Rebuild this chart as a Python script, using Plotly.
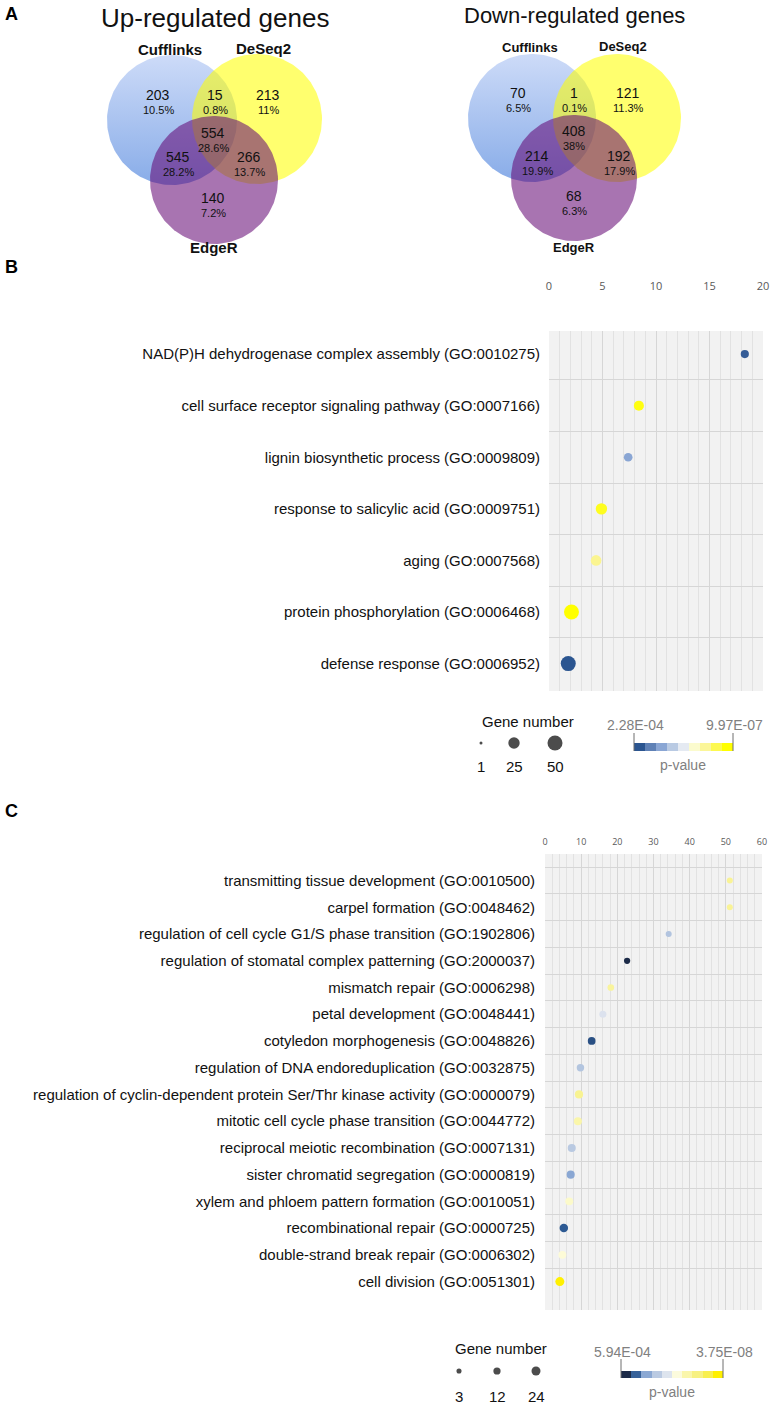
import numpy as np
import plotly.graph_objects as go

# ================= DATA =================
# Panel A : Venn diagrams (regions: Cuff only, Cuff&DeSeq2, DeSeq2 only, all three,
#           Cuff&EdgeR, DeSeq2&EdgeR, EdgeR only)
venn_sets = ["Cufflinks", "DeSeq2", "EdgeR"]
up_title = "Up-regulated genes"
up_counts = [203, 15, 213, 554, 545, 266, 140]
up_pcts = ["10.5%", "0.8%", "11%", "28.6%", "28.2%", "13.7%", "7.2%"]
down_title = "Down-regulated genes"
down_counts = [70, 1, 121, 408, 214, 192, 68]
down_pcts = ["6.5%", "0.1%", "11.3%", "38%", "19.9%", "17.9%", "6.3%"]

# Panel B : GO terms (up-regulated)
b_terms = [
    "NAD(P)H dehydrogenase complex assembly (GO:0010275)",
    "cell surface receptor signaling pathway (GO:0007166)",
    "lignin biosynthetic process (GO:0009809)",
    "response to salicylic acid (GO:0009751)",
    "aging (GO:0007568)",
    "protein phosphorylation (GO:0006468)",
    "defense response (GO:0006952)",
]
b_enrichment = [18.3, 8.4, 7.4, 4.9, 4.4, 2.1, 1.8]
b_genes = [10, 18, 12, 25, 21, 50, 50]
b_pvalues = [2.0e-4, 1.15e-6, 5.9e-5, 1.3e-6, 3.5e-6, 9.97e-7, 2.28e-4]
b_legend_genes = [1, 25, 50]
b_p_range = [2.28e-4, 9.97e-7]
b_xticks = [0, 5, 10, 15, 20]

# Panel C : GO terms (down-regulated)
c_terms = [
    "transmitting tissue development (GO:0010500)",
    "carpel formation (GO:0048462)",
    "regulation of cell cycle G1/S phase transition (GO:1902806)",
    "regulation of stomatal complex patterning (GO:2000037)",
    "mismatch repair (GO:0006298)",
    "petal development (GO:0048441)",
    "cotyledon morphogenesis (GO:0048826)",
    "regulation of DNA endoreduplication (GO:0032875)",
    "regulation of cyclin-dependent protein Ser/Thr kinase activity (GO:0000079)",
    "mitotic cell cycle phase transition (GO:0044772)",
    "reciprocal meiotic recombination (GO:0007131)",
    "sister chromatid segregation (GO:0000819)",
    "xylem and phloem pattern formation (GO:0010051)",
    "recombinational repair (GO:0000725)",
    "double-strand break repair (GO:0006302)",
    "cell division (GO:0051301)",
]
c_enrichment = [51.1, 51.1, 34.2, 22.7, 18.2, 16.0, 12.9, 9.8, 9.4, 9.1, 7.4, 7.1, 6.7, 5.2, 4.8, 4.1]
c_genes = [6, 6, 6, 7, 9, 11, 15, 13, 18, 17, 17, 17, 16, 20, 16, 24]
c_pvalues = [5.5e-7, 5.5e-7, 2.95e-5, 5.94e-4, 6.8e-7, 8.5e-6, 2.75e-4, 2.9e-5,
             5.1e-7, 9.1e-7, 2.45e-5, 7.1e-5, 1.8e-6, 2.26e-4, 2.4e-6, 3.75e-8]
c_legend_genes = [3, 12, 24]
c_p_range = [5.94e-4, 3.75e-8]
c_xticks = [0, 10, 20, 30, 40, 50, 60]

# ================= STYLE / LAYOUT =================
W, H = 771, 1404
FONT = "Liberation Sans, Arial, sans-serif"
TICKFONT = "Open Sans, Liberation Sans, sans-serif"
GRAY_TXT = "#808080"

b_colorscale = [[0, "#2b5590"], [0.12, "#5d7fb5"], [0.25, "#8aa6d4"], [0.4, "#c3d1e6"],
                [0.52, "#eceff4"], [0.62, "#fbfbd0"], [0.78, "#fbf58c"], [1, "#ffff00"]]
c_colorscale = [[0, "#1c2b48"], [0.1, "#2d5a93"], [0.22, "#8aa7d3"], [0.32, "#b6c7e0"],
                [0.45, "#dfe5ef"], [0.56, "#fdfcdc"], [0.7, "#f9f49c"], [0.85, "#f6ef6a"],
                [1, "#fff000"]]


def b_size(g):
    return 3 + 12 * np.sqrt((np.asarray(g, float) - 1) / 49.0)


def c_size(g):
    return 3 + 6 * np.sqrt(np.asarray(g, float) / 24.0)


def lv(p):
    return -np.log10(np.asarray(p, float))


fig = go.Figure()

# pixel overlay axis (x4/y4) for Venn diagrams and legends
PX, PY = "x4", "y4"

# ---------- Panel A: Venn ----------
venn_layout = [
    dict(title=up_title, counts=up_counts, pcts=up_pcts, tsize=26, tpos=(215, 18),
         circles=[(172, 120, 65), (257, 119, 65), (214, 180, 64)],
         setpos=[(170, 49), (263, 48), (214, 247)], setsize=15,
         regions=[(158, 95), (215, 95), (268, 95), (213, 133), (178, 157), (249, 157), (213, 198)]),
    dict(title=down_title, counts=down_counts, pcts=down_pcts, tsize=22, tpos=(574, 15),
         circles=[(532, 118, 64), (617, 118, 64), (574, 178, 63)],
         setpos=[(530, 47), (623, 46), (574, 247)], setsize=13,
         regions=[(518, 93), (574, 93), (628, 93), (574, 131), (537, 156), (619, 156), (574, 196)]),
]
theta = np.linspace(0, 2 * np.pi, 200)
annotations = []
for v in venn_layout:
    (bx, by, br), (yx, yy, yr), (qx, qy, qr) = v["circles"]
    fig.add_trace(go.Scatter(
        x=bx + br * np.cos(theta), y=by + br * np.sin(theta), xaxis=PX, yaxis=PY,
        mode="lines", line=dict(width=0), fill="toself",
        fillgradient=dict(type="vertical", start=by - br, stop=by + br,
                          colorscale=[[0, "#cddbf8"], [1, "#88ace8"]]),
        hoverinfo="skip", showlegend=False))
    fig.add_trace(go.Scatter(
        x=yx + yr * np.cos(theta), y=yy + yr * np.sin(theta), xaxis=PX, yaxis=PY,
        mode="lines", line=dict(width=0), fill="toself", fillcolor="#ffff00",
        opacity=0.57, hoverinfo="skip", showlegend=False))
    fig.add_trace(go.Scatter(
        x=qx + qr * np.cos(theta), y=qy + qr * np.sin(theta), xaxis=PX, yaxis=PY,
        mode="lines", line=dict(width=0), fill="toself", fillcolor="rgb(100,8,116)",
        opacity=0.56, hoverinfo="skip", showlegend=False))
    annotations.append(dict(x=v["tpos"][0], y=v["tpos"][1], xref=PX, yref=PY, text=v["title"],
                            showarrow=False, font=dict(family=FONT, size=v["tsize"], color="#111")))
    for name, (sx, sy) in zip(venn_sets, v["setpos"]):
        annotations.append(dict(x=sx, y=sy, xref=PX, yref=PY, text="<b>%s</b>" % name,
                                showarrow=False, font=dict(family=FONT, size=v["setsize"], color="#111")))
    for cnt, pct, (rx, ry) in zip(v["counts"], v["pcts"], v["regions"]):
        annotations.append(dict(x=rx, y=ry, xref=PX, yref=PY, text=str(cnt), showarrow=False,
                                font=dict(family=FONT, size=14, color="#111")))
        annotations.append(dict(x=rx, y=ry + 15, xref=PX, yref=PY, text=pct, showarrow=False,
                                font=dict(family=FONT, size=11, color="#111")))

# ---------- Panel B ----------
b_lv = lv(b_pvalues)
b_min, b_max = lv(b_p_range[0]), lv(b_p_range[1])
fig.add_trace(go.Scatter(
    x=b_enrichment, y=b_terms, xaxis="x2", yaxis="y2", mode="markers",
    marker=dict(size=b_size(b_genes), color=b_lv, colorscale=b_colorscale,
                cmin=b_min, cmax=b_max, line=dict(width=0), opacity=1),
    showlegend=False, hoverinfo="x+y"))

# ---------- Panel C ----------
c_lv = lv(c_pvalues)
c_min, c_max = lv(c_p_range[0]), lv(c_p_range[1])
fig.add_trace(go.Scatter(
    x=c_enrichment, y=c_terms, xaxis="x3", yaxis="y3", mode="markers",
    marker=dict(size=c_size(c_genes), color=c_lv, colorscale=c_colorscale,
                cmin=c_min, cmax=c_max, line=dict(width=0), opacity=1),
    showlegend=False, hoverinfo="x+y"))

# ---------- Legends ----------
shapes = []


def add_legend(genes, size_fn, dot_x, dot_y, title_pos, lab_y, p_range, vmin, vmax, cscale,
               bar_x0, bar_x1, bar_y0, bar_y1, tick_top, plabel_y, pval_pos, nseg):
    fig.add_trace(go.Scatter(
        x=dot_x, y=[dot_y] * len(dot_x), xaxis=PX, yaxis=PY, mode="markers",
        marker=dict(size=size_fn(genes), color="black", line=dict(width=0)),
        hoverinfo="skip", showlegend=False))
    annotations.append(dict(x=title_pos[0], y=title_pos[1], xref=PX, yref=PY, text="Gene number",
                            showarrow=False, font=dict(family=FONT, size=15, color="#111")))
    for g, gx in zip(genes, dot_x):
        annotations.append(dict(x=gx, y=lab_y, xref=PX, yref=PY, text=str(g), showarrow=False,
                                font=dict(family=FONT, size=15, color="#111")))
    edges = np.linspace(bar_x0, bar_x1, nseg + 1)
    fig.add_trace(go.Heatmap(
        x=edges, y=[bar_y0, bar_y1], z=[np.linspace(vmin, vmax, nseg)], xaxis=PX, yaxis=PY,
        colorscale=cscale, zmin=vmin, zmax=vmax, showscale=False, hoverinfo="skip"))
    for px_, p in zip([bar_x0, bar_x1], p_range):
        shapes.append(dict(type="line", xref=PX, yref=PY, x0=px_, x1=px_, y0=tick_top, y1=bar_y1,
                           line=dict(color="#6f6f6f", width=1)))
        annotations.append(dict(x=px_ + 1, y=plabel_y, xref=PX, yref=PY, text="%.2E" % p,
                                showarrow=False, font=dict(family=FONT, size=14, color=GRAY_TXT)))
    annotations.append(dict(x=pval_pos[0], y=pval_pos[1], xref=PX, yref=PY, text="p-value",
                            showarrow=False, font=dict(family=FONT, size=14, color=GRAY_TXT)))


add_legend(b_legend_genes, b_size, [481, 514, 555], 743, (528, 721), 766, b_p_range, b_min, b_max,
           b_colorscale, 634, 733, 743, 751, 733, 725, (683, 765), 9)
add_legend(c_legend_genes, c_size, [459, 497, 536], 1371, (501, 1348), 1396, c_p_range, c_min, c_max,
           c_colorscale, 621, 723, 1371, 1378, 1359, 1352, (672, 1392), 10)

# panel letters
for letter, (lx, ly) in zip(["A", "B", "C"], [(11, 14), (11, 267), (11, 811)]):
    annotations.append(dict(x=lx, y=ly, xref=PX, yref=PY, text="<b>%s</b>" % letter, showarrow=False,
                            font=dict(family=FONT, size=18, color="#000")))

# gray panel backgrounds
for xa in ["x2", "x3"]:
    shapes.append(dict(type="rect", xref="%s domain" % xa, yref="%s domain" % xa.replace("x", "y"),
                       x0=0, x1=1, y0=0, y1=1, fillcolor="#f2f2f2", line=dict(width=0), layer="below"))


def pyd(p):
    return 1 - p / H


grid_major = "#d6d6d6"
grid_minor = "#e2e2e2"
fig.update_layout(
    width=W, height=H, margin=dict(l=0, r=0, t=0, b=0),
    paper_bgcolor="white", plot_bgcolor="rgba(0,0,0,0)",
    showlegend=False,
    xaxis4=dict(domain=[0, 1], range=[0, W], visible=False, fixedrange=True),
    yaxis4=dict(domain=[0, 1], range=[H, 0], visible=False, fixedrange=True, anchor="x4"),
    xaxis2=dict(domain=[549 / W, 763 / W], range=[0, 20], side="top", anchor="y2",
                tickvals=b_xticks, showgrid=True, gridcolor=grid_major, gridwidth=1,
                minor=dict(dtick=1, showgrid=True, gridcolor=grid_minor),
                zeroline=False, showline=False, ticks="",
                tickfont=dict(family=TICKFONT, size=11, color="#595959"),
                ticklabelstandoff=38, automargin=False, fixedrange=True),
    yaxis2=dict(domain=[pyd(691), pyd(331)], anchor="x2", type="category",
                categoryorder="array", categoryarray=b_terms, autorange="reversed",
                tickson="boundaries", showgrid=True, gridcolor=grid_major, ticks="",
                zeroline=False, showline=False,
                tickfont=dict(family=FONT, size=15, color="#111"),
                ticklabelstandoff=8, automargin=False, fixedrange=True),
    xaxis3=dict(domain=[545 / W, 762 / W], range=[0, 60], side="top", anchor="y3",
                tickvals=c_xticks, showgrid=True, gridcolor=grid_major, gridwidth=1,
                minor=dict(dtick=2, showgrid=True, gridcolor=grid_minor),
                zeroline=False, showline=False, ticks="",
                tickfont=dict(family=TICKFONT, size=9, color="#595959"),
                ticklabelstandoff=6, automargin=False, fixedrange=True),
    yaxis3=dict(domain=[pyd(1310), pyd(854)], anchor="x3", type="category",
                categoryorder="array", categoryarray=c_terms, autorange="reversed",
                tickson="boundaries", showgrid=True, gridcolor=grid_major, ticks="",
                zeroline=False, showline=False,
                tickfont=dict(family=FONT, size=15, color="#111"),
                ticklabelstandoff=9, automargin=False, fixedrange=True),
    annotations=annotations, shapes=shapes,
)

fig.write_html("out.html", config={"displayModeBar": False, "staticPlot": True},
               post_script="document.body.style.margin='0';document.body.style.overflow='hidden';")
